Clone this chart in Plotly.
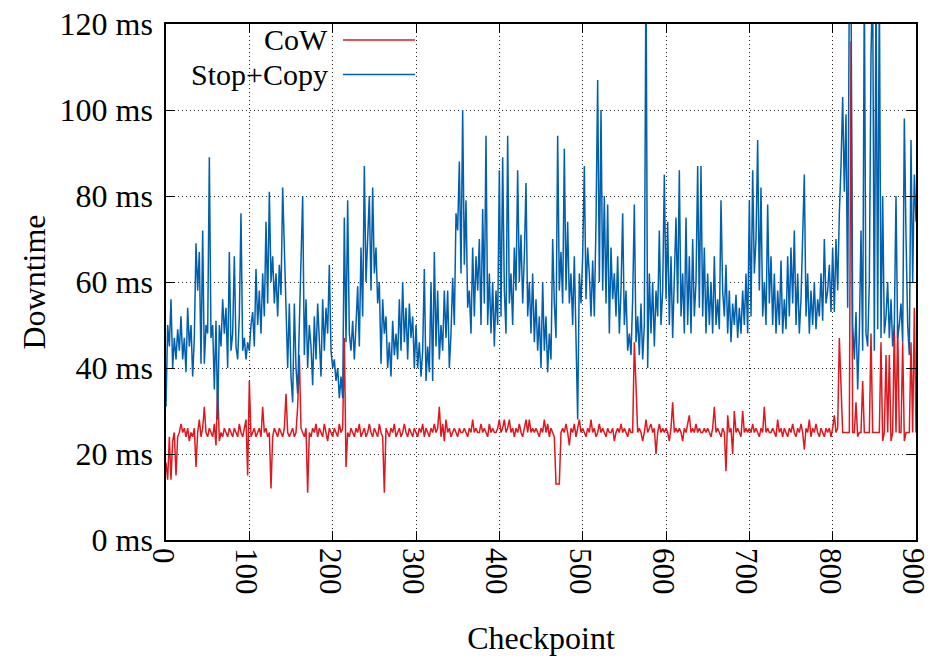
import plotly.graph_objects as go

# Checkpoint index (every 2nd checkpoint)
checkpoints = list(range(0, 901, 2))

# CoW downtime (ms)
cow = [
    18,14,24,14,23,25,15,24,25,27,25,26,24,26,23,25,24,26,17,25,28,24,26,31,25,
    24,26,25,24,27,22,36,23,25,24,26,25,24,26,25,24,26,25,24,27,25,24,26,28,15,
    37,24,25,26,24,25,26,24,31,25,26,24,25,12,24,26,25,24,26,25,24,26,34,25,24,
    25,26,24,25,31,43,26,25,24,26,11,25,24,26,25,27,24,26,25,24,27,25,23,26,25,
    24,26,25,24,27,25,26,47,17,25,24,26,25,24,26,25,27,24,25,26,24,25,27,25,24,
    26,25,24,27,25,24,11,26,25,24,26,25,27,24,25,26,24,25,27,25,24,26,25,24,26,
    25,24,26,25,27,24,26,25,24,26,25,27,25,26,31,24,27,23,28,25,26,24,25,26,25,
    24,26,25,25,26,25,24,26,25,28,25,26,25,25,27,25,26,25,24,27,25,26,25,25,26,
    28,25,26,28,25,26,28,25,26,24,26,25,27,25,24,26,28,25,28,25,26,25,26,25,24,
    26,25,28,25,27,24,26,25,24,13,13,13,25,26,25,27,25,22,26,25,27,24,26,28,25,
    26,25,24,26,25,28,25,26,24,25,27,25,26,25,24,26,25,25,26,23,25,26,25,27,25,
    26,25,24,26,25,25,46,36,25,26,25,23,25,28,25,26,27,25,26,20,25,27,25,26,25,
    26,25,23,26,32,25,26,25,26,25,23,26,25,27,29,25,26,25,27,25,26,25,25,26,25,
    26,25,24,26,31,25,26,25,24,26,25,16,29,25,26,20,30,25,26,25,24,30,25,26,25,
    26,25,27,25,26,25,24,26,25,31,25,26,25,25,26,25,24,28,25,26,24,26,25,24,26,
    25,27,25,24,26,25,27,25,21,26,25,28,24,26,25,27,25,24,26,25,24,26,25,26,24,
    26,29,25,26,47,35,25,25,25,25,25,116,25,25,32,24,25,25,37,25,25,25,25,48,25,
    25,25,25,25,46,23,25,43,25,43,23,25,50,25,50,25,25,46,23,25,25,25,46,25,54,25,
]

# Stop+Copy downtime (ms)
stop_copy = [
    31,50,45,56,40,47,42,49,44,52,42,47,39,54,45,50,38,47,69,58,67,41,72,41,50,
    48,89,47,50,35,51,28,50,45,56,48,54,40,67,44,48,66,45,42,52,76,44,47,42,46,
    44,50,53,45,63,50,58,48,62,52,74,55,81,60,66,55,62,52,64,57,82,68,48,40,55,
    38,32,55,40,34,50,67,80,43,56,40,50,45,36,52,42,55,46,38,56,44,54,48,64,44,
    40,42,37,40,33,38,33,75,46,79,48,44,51,42,50,59,45,68,52,87,60,71,80,58,82,
    62,68,55,60,41,56,48,52,40,46,38,51,43,48,42,56,44,60,46,54,42,55,47,52,40,
    50,40,46,38,44,63,37,45,39,60,37,67,45,58,42,50,44,58,47,58,40,48,61,50,76,
    72,88,62,100,64,79,54,58,48,68,52,66,58,70,50,77,55,94,50,62,48,60,45,58,50,
    86,52,89,58,48,94,55,62,50,68,58,86,60,71,55,66,83,52,60,48,62,46,56,44,52,
    40,60,44,52,39,48,42,70,55,47,94,58,67,55,91,58,74,55,62,50,66,46,28,62,55,
    66,87,56,68,62,52,65,52,74,107,60,100,58,80,55,78,48,68,56,62,52,66,48,58,76,
    50,58,44,48,43,56,78,46,52,43,55,42,50,135,40,62,48,60,45,58,52,72,50,58,85,
    56,74,50,66,47,60,75,55,86,52,62,48,75,50,66,48,70,52,60,87,54,87,52,68,48,
    62,50,60,48,66,50,56,49,79,58,52,64,48,58,46,55,50,57,47,54,48,58,50,62,48,
    79,52,86,62,70,93,58,82,52,60,50,78,55,66,50,62,48,58,50,65,48,56,49,66,52,
    68,55,72,50,62,48,56,74,85,52,62,48,58,50,60,49,56,52,62,51,70,55,58,64,53,
    68,53,70,58,76,87,103,81,99,54,130,130,50,42,53,35,48,72,44,130,48,45,60,113,130,
    44,130,49,130,47,80,48,52,60,47,56,45,50,80,47,50,55,46,98,71,50,43,93,60,85,74,
]

x_ticks = [0, 100, 200, 300, 400, 500, 600, 700, 800, 900]
y_ticks = [0, 20, 40, 60, 80, 100, 120]
y_tick_labels = [f"{v} ms" for v in y_ticks]

RED = "#dd181f"
BLUE = "#0060ad"
FONT = "Liberation Serif"
FS = 32

fig = go.Figure()
fig.add_trace(go.Scatter(x=checkpoints, y=cow, mode="lines", name="CoW",
                         line=dict(color=RED, width=1.5)))
fig.add_trace(go.Scatter(x=checkpoints, y=stop_copy, mode="lines", name="Stop+Copy",
                         line=dict(color=BLUE, width=1.5)))

axis_common = dict(
    showline=True, linecolor="black", linewidth=1.5, mirror="ticks",
    ticks="inside", ticklen=9, tickwidth=1.2, tickcolor="black",
    showgrid=True, gridcolor="#222", gridwidth=1, griddash="1px,3px",
    zeroline=False,
    ticklabeloverflow="allow",
)

fig.update_xaxes(range=[0, 900], tickvals=x_ticks, tickangle=90,
                 tickfont=dict(family=FONT, size=31, color="black"),
                 title=dict(text="Checkpoint", font=dict(family=FONT, size=FS, color="black"), standoff=33),
                 ticklabelstandoff=0, ticklabelshift=-3, **axis_common)
fig.update_yaxes(range=[0, 120], tickvals=y_ticks, ticktext=y_tick_labels,
                 tickfont=dict(family=FONT, size=FS, color="black"),
                 title=dict(text="Downtime", font=dict(family=FONT, size=FS, color="black"), standoff=4),
                 ticklabelstandoff=5, **axis_common)

# gnuplot-style key: text right-aligned, sample line to the right
key_entries = [("CoW", RED, 0.969), ("Stop+Copy", BLUE, 0.902)]
for label, color, yp in key_entries:
    fig.add_annotation(x=0.219, y=yp, xref="paper", yref="paper", text=label,
                       showarrow=False, xanchor="right", yanchor="middle",
                       font=dict(family=FONT, size=30, color="black"))
    fig.add_shape(type="line", xref="paper", yref="paper", x0=0.236, x1=0.332,
                  y0=yp, y1=yp, line=dict(color=color, width=1.5))

fig.update_layout(
    width=933, height=659,
    margin=dict(l=166, r=17, t=24, b=119, autoexpand=False),
    paper_bgcolor="white", plot_bgcolor="white",
    showlegend=False,
    font=dict(family=FONT, size=FS, color="black"),
)

fig.write_html("out.html", config={"displayModeBar": False},
               post_script="document.body.style.margin='0';document.body.style.padding='0';")
